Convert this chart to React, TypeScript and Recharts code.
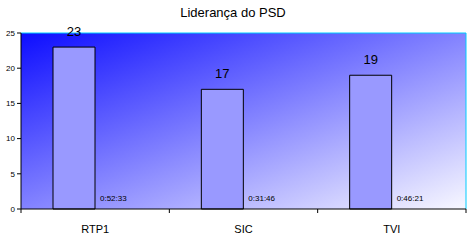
import React from "react";
import {
  BarChart,
  Bar,
  XAxis,
  YAxis,
  CartesianGrid,
  LabelList,
  ReferenceLine,
} from "recharts";

const channels = ["RTP1", "SIC", "TVI"];
const minutes = [23, 17, 19];
const airTimes = ["0:52:33", "0:31:46", "0:46:21"];
const yTicks = [0, 5, 10, 15, 20, 25];

const data = channels.map((name, i) => ({
  name,
  value: minutes[i],
  zero: 0,
  time: airTimes[i],
}));

const FONT = "'Liberation Sans', Arial, sans-serif";
const BORDER = "#00ccff";
const TICK_SIZE = 6;
const TICK_MARGIN = 2;

// time sits at the foot of the (empty) second bar, right of the main one
function TimeLabel(props: any) {
  const { x, width, index } = props;
  return (
    <text x={x + width + 5} y={201} fontSize={8} fill="#000" fontFamily={FONT}>
      {airTimes[index]}
    </text>
  );
}

// Excel style: tick marks between categories, label in the middle
function CategoryTick(props: any) {
  const { x, y, payload, index } = props;
  const half = payload?.offset ?? 0;
  const axisY = y - TICK_SIZE - TICK_MARGIN;
  return (
    <g>
      {index === 0 && (
        <line x1={x - half} x2={x - half} y1={axisY} y2={axisY + 4} stroke="#000" />
      )}
      <line x1={x + half} x2={x + half} y1={axisY} y2={axisY + 4} stroke="#000" />
      <text x={x} y={axisY + 24} textAnchor="middle" fontSize={11} fill="#000" fontFamily={FONT}>
        {payload.value}
      </text>
    </g>
  );
}

export default function App() {
  return (
    <div style={{ position: "absolute", left: 0, top: 0, width: 473, height: 240, background: "#fff" }}>
      <svg width={0} height={0} style={{ position: "absolute" }}>
        <defs>
          <linearGradient id="plotBg" x1="0" y1="0" x2="1" y2="1">
            <stop offset="0%" stopColor="#0d0dff" />
            <stop offset="100%" stopColor="#f8f8ff" />
          </linearGradient>
        </defs>
      </svg>
      <div
        style={{
          position: "absolute",
          left: 0,
          top: 6,
          width: 466,
          textAlign: "center",
          fontFamily: FONT,
          fontSize: 13,
          lineHeight: "13px",
          color: "#000",
        }}
      >
        Liderança do PSD
      </div>
      <BarChart
        width={473}
        height={240}
        data={data}
        margin={{ top: 33, right: 7, bottom: 0, left: 0 }}
        barCategoryGap={32}
        barGap={0}
        style={{ fontFamily: FONT }}
      >
        <CartesianGrid horizontal={false} vertical={false} fill="url(#plotBg)" />
        <XAxis
          dataKey="name"
          height={31}
          tickLine={false}
          tickSize={TICK_SIZE}
          tickMargin={TICK_MARGIN}
          axisLine={{ stroke: "#000" }}
          tick={CategoryTick}
        />
        <YAxis
          width={21}
          domain={[0, 25]}
          ticks={yTicks}
          tick={{ fontSize: 8, fill: "#000", fontFamily: FONT }}
          axisLine={{ stroke: "#000" }}
          tickLine={{ stroke: "#000" }}
          tickSize={4}
        />
        <ReferenceLine y={25} stroke={BORDER} strokeWidth={1} />
        <ReferenceLine x="TVI" position="end" stroke={BORDER} strokeWidth={1} />
        <Bar dataKey="value" fill="#9999ff" stroke="#000" strokeWidth={1} isAnimationActive={false}>
          <LabelList dataKey="value" position="top" offset={11} fontSize={13} fill="#000" fontFamily={FONT} />
          <LabelList dataKey="time" content={TimeLabel} />
        </Bar>
        <Bar dataKey="zero" fill="none" stroke="none" isAnimationActive={false} />
      </BarChart>
    </div>
  );
}
